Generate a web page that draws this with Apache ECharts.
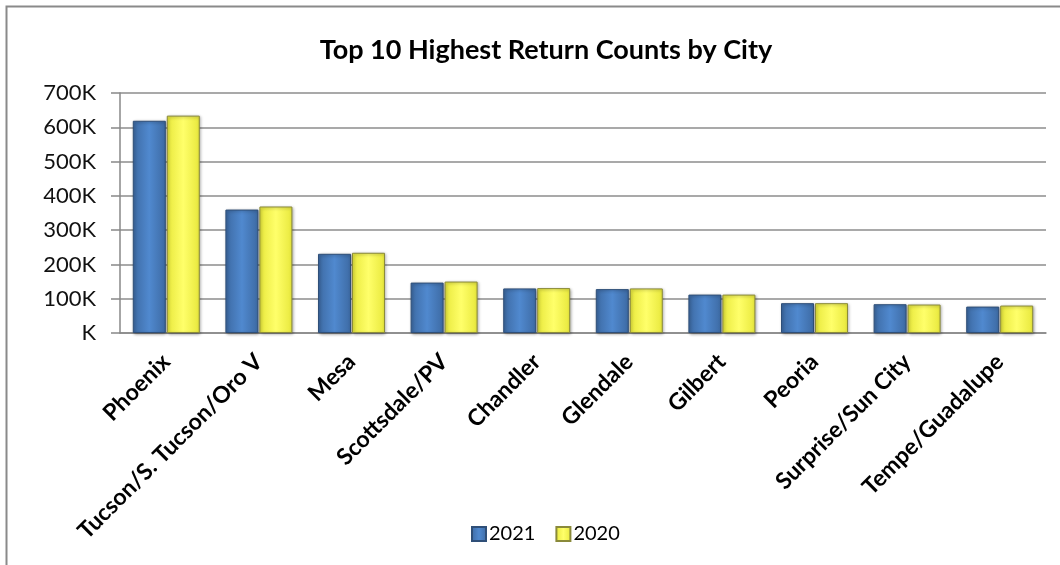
<!DOCTYPE html>
<html>
<head>
<meta charset="utf-8">
<script src="https://cdn.jsdelivr.net/npm/echarts@6/dist/echarts.min.js"></script>
<style>
  html, body { margin: 0; padding: 0; background: #fff; }
  #main { width: 1060px; height: 565px; }
</style>
</head>
<body>
<div id="main"></div>
<script>
var cities = ["Phoenix", "Tucson/S. Tucson/Oro V", "Mesa", "Scottsdale/PV", "Chandler",
    "Glendale", "Gilbert", "Peoria", "Surprise/Sun City", "Tempe/Guadalupe"];
var counts2021 = [619000, 360000, 231000, 147000, 130000, 128000, 112000, 87000, 84000, 77000];
var counts2020 = [634000, 369000, 234000, 150000, 131000, 130000, 112000, 87000, 83000, 80000];

var fontName = "Lato, 'Open Sans', sans-serif";

function barFill(edge, mid) {
    return new echarts.graphic.LinearGradient(0, 0, 1, 0, [
        {offset: 0, color: edge},
        {offset: 0.5, color: mid},
        {offset: 1, color: edge}
    ]);
}

var chart = echarts.init(document.getElementById("main"));
var option = {
    backgroundColor: "#fff",
    animation: false,
    title: {
        text: "Top 10 Highest Return Counts by City",
        left: 541,
        textAlign: "center",
        top: 32,
        textStyle: {fontFamily: fontName, fontSize: 27, fontWeight: "bold", color: "#000"}
    },
    legend: {
        left: 466,
        top: 519,
        itemWidth: 14,
        itemHeight: 14,
        itemGap: 20,
        icon: "rect",
        textStyle: {fontFamily: fontName, fontSize: 20, color: "#000", padding: [0, 0, 0, -2]},
        data: ["2021", "2020"]
    },
    grid: {left: 120, right: 14, top: 93, bottom: 232},
    xAxis: {
        type: "category",
        data: cities,
        axisLine: {lineStyle: {color: "#888", width: 1.5}},
        axisTick: {length: 8, lineStyle: {color: "#888", width: 1.5}},
        axisLabel: {
            rotate: 45,
            margin: 25,
            interval: 0,
            fontFamily: fontName,
            fontSize: 23,
            fontWeight: "bold",
            color: "#000"
        }
    },
    yAxis: {
        type: "value",
        min: 0,
        max: 700000,
        interval: 100000,
        axisLine: {show: true, lineStyle: {color: "#888", width: 1.5}},
        axisTick: {show: true, length: 9, lineStyle: {color: "#888", width: 1.5}},
        splitLine: {lineStyle: {color: "#8c8c8c", width: 1.5}},
        axisLabel: {
            margin: 24,
            fontFamily: fontName,
            fontSize: 22,
            color: "#111",
            formatter: function (v) {
                return v === 0 ? "K" : (v / 1000) + "K";
            }
        }
    },
    series: [
        {
            name: "2021",
            type: "bar",
            data: counts2021,
            barWidth: 33,
            barGap: "3%",
            itemStyle: {
                color: barFill("#3d6aa3", "#5089cf"),
                borderColor: "#2f4f78",
                borderWidth: 1,
                shadowBlur: 3,
                shadowOffsetX: 1,
                shadowOffsetY: 1,
                shadowColor: "rgba(0,0,0,0.35)"
            }
        },
        {
            name: "2020",
            type: "bar",
            data: counts2020,
            barWidth: 33,
            itemStyle: {
                color: barFill("#e8e83c", "#ffff6a"),
                borderColor: "#8a8a3a",
                borderWidth: 1,
                shadowBlur: 3,
                shadowOffsetX: 1,
                shadowOffsetY: 1,
                shadowColor: "rgba(0,0,0,0.35)"
            }
        }
    ],
    graphic: [
        {
            type: "rect",
            left: 4,
            top: 4,
            shape: {width: 1070, height: 600},
            style: {fill: "none", stroke: "#8a8a8a", lineWidth: 2},
            silent: true
        }
    ]
};
chart.setOption(option);
</script>
</body>
</html>
